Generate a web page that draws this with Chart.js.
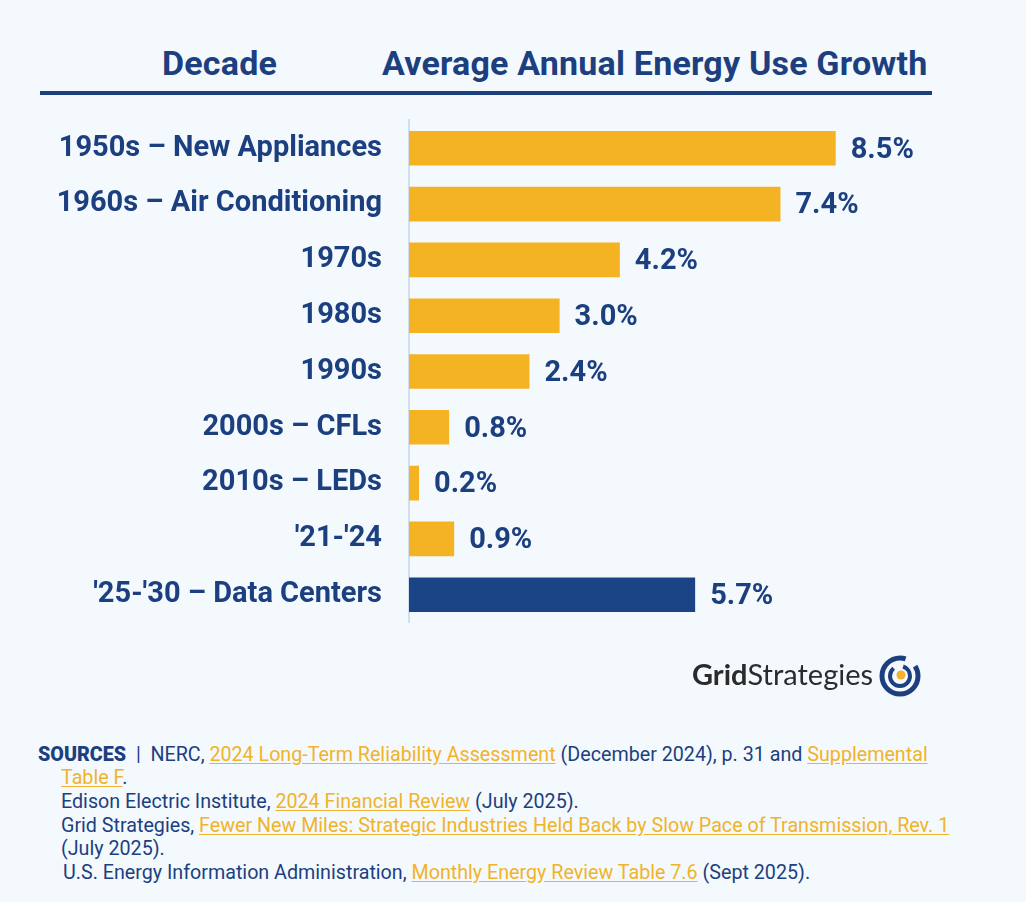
<!DOCTYPE html>
<html>
<head>
<meta charset="utf-8">
<script src="https://cdn.jsdelivr.net/npm/chart.js@4"></script>
<style>
  html, body { margin:0; padding:0; }
  body { width:1026px; height:902px; background:#f4f9fd; position:relative; overflow:hidden; font-family:Roboto, "Noto Sans", sans-serif; color:#1c3f80; }
  .hdr { position:absolute; top:43px; font-weight:700; font-size:34px; letter-spacing:0.2px; color:#1c3f80; white-space:nowrap; }
  .rule { position:absolute; left:40px; top:91px; width:892px; height:4px; background:#1c3f80; }
  #wrap { position:absolute; left:0; top:76px; width:1026px; height:591px; }
  .src { position:absolute; font-size:19.7px; line-height:22px; white-space:nowrap; color:#1c3f80; }
  .src a { color:#f0b32a; text-decoration:underline; text-underline-offset:2px; }
  .logo { position:absolute; left:692px; top:656px; font-family:Lato, Roboto, sans-serif; font-size:29px; color:#2b2b2b; white-space:nowrap; }
</style>
</head>
<body>
<div class="hdr" style="left:162px">Decade</div>
<div class="hdr" style="left:382px">Average Annual Energy Use Growth</div>
<div class="rule"></div>

<div id="wrap"><canvas id="chart" width="1026" height="591"></canvas></div>

<div class="logo"><b style="font-weight:700">Grid</b><span style="font-weight:400">Strategies</span></div>
<svg style="position:absolute;left:876px;top:654px" width="48" height="44" viewBox="0 0 48 44">
  <circle cx="24" cy="22" r="18" fill="none" stroke="#1c3f80" stroke-width="5" stroke-dasharray="90 12"/>
  <circle cx="24" cy="22" r="10" fill="none" stroke="#1c3f80" stroke-width="4" stroke-dasharray="40 10"/>
  <circle cx="25" cy="21" r="4.5" fill="#f0b32a"/>
</svg>

<div class="src" style="left:38px;top:744px"><b style="font-weight:900">SOURCES</b>&nbsp; |&nbsp; NERC, <a>2024 Long-Term Reliability Assessment</a> (December 2024), p. 31 and <a>Supplemental</a></div>
<div class="src" style="left:61px;top:767px"><a>Table F</a>.</div>
<div class="src" style="left:61px;top:791px">Edison Electric Institute, <a>2024 Financial Review</a> (July 2025).</div>
<div class="src" style="left:61px;top:815px">Grid Strategies, <a>Fewer New Miles: Strategic Industries Held Back by Slow Pace of Transmission, Rev. 1</a></div>
<div class="src" style="left:61px;top:838px">(July 2025).</div>
<div class="src" style="left:63px;top:862px">U.S. Energy Information Administration, <a>Monthly Energy Review Table 7.6</a> (Sept 2025).</div>

<script>
const decades = ['1950s \u2013 New Appliances', '1960s \u2013 Air Conditioning', '1970s', '1980s', '1990s',
                 '2000s \u2013 CFLs', '2010s \u2013 LEDs', "'21-'24", "'25-'30 \u2013 Data Centers"];
const growth = [8.5, 7.4, 4.2, 3.0, 2.4, 0.8, 0.2, 0.9, 5.7];
const barColors = ['#f4b323', '#f4b323', '#f4b323', '#f4b323', '#f4b323', '#f4b323', '#f4b323', '#f4b323', '#1b4487'];

const NAVY = '#1c3f80';

// value labels to the right of each bar
const valueLabels = {
  id: 'valueLabels',
  afterDatasetsDraw(chart) {
    const ctx = chart.ctx;
    const meta = chart.getDatasetMeta(0);
    ctx.save();
    ctx.font = '700 29px Roboto';
    ctx.fillStyle = NAVY;
    ctx.textBaseline = 'middle';
    ctx.textAlign = 'left';
    meta.data.forEach((bar, i) => {
      ctx.fillText(growth[i].toFixed(1) + '%', bar.x + 15, bar.y + 2);
    });
    ctx.restore();
  }
};

new Chart(document.getElementById('chart'), {
  type: 'bar',
  data: {
    labels: decades,
    datasets: [{
      data: growth,
      backgroundColor: barColors,
      borderWidth: 0,
      categoryPercentage: 1,
      barPercentage: 0.62
    }]
  },
  options: {
    indexAxis: 'y',
    responsive: false,
    animation: false,
    devicePixelRatio: 1,
    layout: { autoPadding: false, padding: { top: 12, bottom: 13, right: 115 } },
    plugins: { legend: { display: false }, tooltip: { enabled: false } },
    scales: {
      x: { display: false, min: 0, max: 10 },
      y: {
        afterFit(scale) { scale.width = 409; },
        grid: { display: false, drawTicks: false },
        border: { display: true, color: '#d3dfec', width: 2 },
        ticks: {
          color: NAVY,
          font: { family: 'Roboto', size: 29, weight: '700' },
          padding: 27
        }
      }
    }
  },
  plugins: [valueLabels]
});
</script>
</body>
</html>
